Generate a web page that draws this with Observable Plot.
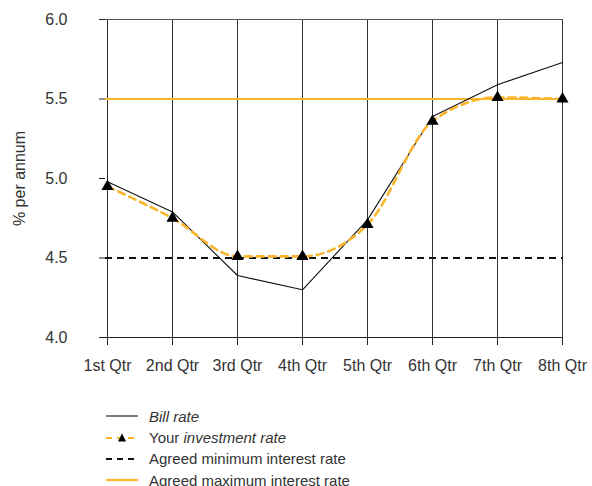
<!DOCTYPE html>
<html>
<head>
<meta charset="utf-8">
<script src="https://cdn.jsdelivr.net/npm/d3@7"></script>
<script src="https://cdn.jsdelivr.net/npm/@observablehq/plot@0.6"></script>
<style>
  body { margin: 0; background: #fff; font-family: "Liberation Sans", Arial, sans-serif; }
  #wrap { position: relative; width: 592px; height: 486px; overflow: hidden; }
  #plot { position: absolute; left: 0; top: 0; }
  #leg { position: absolute; left: 106px; top: 405.5px; font-size: 15px; color: #333; font-family: "Liberation Sans", Arial, sans-serif; }
  .row { height: 21.4px; display: flex; align-items: center; white-space: nowrap; }
  .row svg { margin-right: 11px; flex: none; }
</style>
</head>
<body>
<div id="wrap">
  <div id="plot"></div>
  <div id="leg">
    <div class="row"><svg width="32" height="12"><line x1="0" x2="32" y1="6" y2="6" stroke="#111" stroke-width="1.1"/></svg><span><i>Bill rate</i></span></div>
    <div class="row"><svg width="32" height="12"><line x1="0" x2="32" y1="6" y2="6" stroke="#f9b52c" stroke-width="2.2" stroke-dasharray="6,5"/><path d="M16,1.5 L20,9.5 L12,9.5 Z" fill="#000"/></svg><span>Your <i>investment rate</i></span></div>
    <div class="row"><svg width="32" height="12"><line x1="0" x2="32" y1="6" y2="6" stroke="#111" stroke-width="2.2" stroke-dasharray="6,5"/></svg><span>Agreed minimum interest rate</span></div>
    <div class="row"><svg width="32" height="12"><line x1="0" x2="32" y1="6" y2="6" stroke="#f9b52c" stroke-width="2.2"/></svg><span>Agreed maximum interest rate</span></div>
  </div>
</div>
<script>
const quarters = ["1st Qtr","2nd Qtr","3rd Qtr","4th Qtr","5th Qtr","6th Qtr","7th Qtr","8th Qtr"];
const billRate = [4.98, 4.79, 4.39, 4.30, 4.74, 5.39, 5.59, 5.73];
const investmentRate = [4.95, 4.75, 4.51, 4.51, 4.71, 5.36, 5.51, 5.50];
const agreedMin = 4.5;
const agreedMax = 5.5;
const yTicks = [4.0, 4.5, 5.0, 5.5, 6.0];

const orange = "#f9b52c";
const bill = quarters.map((q, i) => ({q, v: billRate[i]}));
const inv = quarters.map((q, i) => ({q, v: investmentRate[i]}));

const chart = Plot.plot({
  width: 592,
  height: 392,
  marginLeft: 105,
  marginRight: 29,
  marginTop: 19,
  marginBottom: 55,
  style: {fontFamily: "Liberation Sans, Arial, sans-serif", fontSize: "16px", color: "#333", background: "#fff"},
  x: {type: "point", domain: quarters, padding: 0},
  y: {domain: [4, 6]},
  marks: [
    Plot.ruleX(quarters, {stroke: "#333", strokeWidth: 1}),
    Plot.ruleY([6], {stroke: "#555", strokeWidth: 1}),
    Plot.ruleY([4], {stroke: "#222", strokeWidth: 1}),
    Plot.ruleY([agreedMax], {stroke: orange, strokeWidth: 2.2}),
    Plot.ruleY([agreedMin], {stroke: "#111", strokeWidth: 2.2, strokeDasharray: "7,5"}),
    Plot.line(bill, {x: "q", y: "v", stroke: "#111", strokeWidth: 1.1}),
    Plot.line(inv, {x: "q", y: "v", stroke: orange, strokeWidth: 2.6, strokeDasharray: "7,5", curve: "monotone-x"}),
    Plot.dot(inv, {x: "q", y: "v", symbol: "triangle", fill: "#000", stroke: "none", r: 4.5}),
    Plot.axisY({ticks: yTicks, tickFormat: d3.format(".1f"), tickSize: 6, tickPadding: 32, stroke: "#222", fontSize: 16,
      label: "% per annum", labelAnchor: "center", labelArrow: "none", labelOffset: 92}),
    Plot.axisX({tickSize: 8, tickPadding: 14, stroke: "#222", fontSize: 16, label: null})
  ]
});
document.getElementById("plot").append(chart);
</script>
</body>
</html>
